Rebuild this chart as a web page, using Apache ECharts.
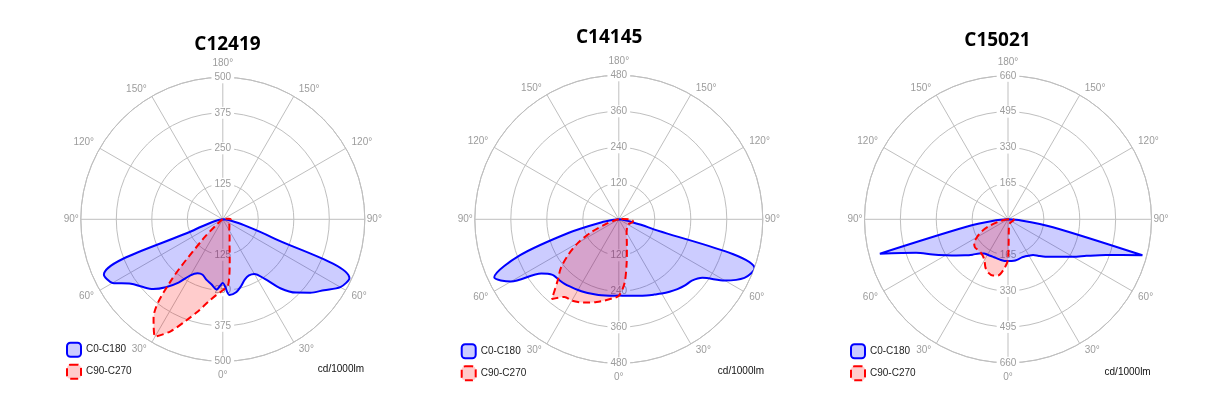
<!DOCTYPE html>
<html><head><meta charset="utf-8">
<script src="https://cdn.jsdelivr.net/npm/echarts@6/dist/echarts.min.js"></script>
<style>html,body{margin:0;padding:0;background:#fff}#c{width:1226px;height:400px}</style>
</head><body><div id="c"></div>
<script>
// ---- data ----
const gammaDeg = [0,5,10,15,20,25,30,35,40,45,50,55,60,65,70,75,80,85,90,95,100];
const titles = ['C12419','C14145','C15021'];
const planeNames = ['C0-C180','C90-C270'];
const unitText = 'cd/1000lm';
const radiusMax = [500,480,660];
const radiusStep = [125,120,165];

const c12419_C0   = [224,268,262,245,226,218,222,255,318,365,402,435,478,492,180,75,30,10,0,0,0];
const c12419_C180 = [224,248,232,221,208,210,228,272,312,347,370,395,448,462,100,40,15,5,0,0,0];
const c12419_C90  = [250,228,140,92,70,56,46,40,36,33,30,28,27,26,25,25,25,26,28,22,10];
const c12419_C270 = [250,268,295,335,380,435,477,425,290,100,25,10,5,3,2,1,0,0,0,0,0];

const c14145_C0   = [254,256,259,264,270,277,286,295,304,312,318,340,408,462,482,100,30,10,0,0,0];
const c14145_C180 = [254,256,258,261,264,268,272,276,281,284,288,315,415,458,350,170,60,15,0,0,0];
const c14145_C90  = [255,215,150,104,78,62,52,46,42,38,36,35,35,37,40,44,48,46,35,15,0];
const c14145_C270 = [255,265,275,285,295,305,313,316,347,288,252,205,157,100,45,15,5,2,0,0,0];

const c15021_C0   = [192,192,192,190,186,188,193,201,220,243,268,300,345,398,480,640,210,60,0,0,0];
const c15021_C180 = [192,192,190,187,186,186,188,192,205,230,258,290,330,382,450,610,190,55,0,0,0];
const c15021_C90  = [185,45,28,23,21,20,19,19,19,19,19,20,20,21,23,25,27,27,22,10,0];
const c15021_C270 = [185,232,262,268,262,245,217,203,198,198,199,190,165,135,95,50,20,5,0,0,0];

const chartPlanes = [
  [[c12419_C180, c12419_C0], [c12419_C270, c12419_C90]],
  [[c14145_C180, c14145_C0], [c14145_C270, c14145_C90]],
  [[c15021_C180, c15021_C0], [c15021_C270, c15021_C90]]
];

// ---- layout / style ----
const layout = [
  {cx:222.8, cy:219.3, r:142, titleX:227.5, titleTop:34.6, legL:66, legT:341.7, unitR:862, unitT:364.3},
  {cx:618.8, cy:219.3, r:144, titleX:609.2, titleTop:27.9, legL:460.7, legT:343.3, unitR:462, unitT:366.7},
  {cx:1008, cy:219.3, r:143.5, titleX:997.5, titleTop:31.2, legL:850, legT:343.3, unitR:75.3, unitT:367.3}
];
const gridColor = '#bfbfbf';
const labelColor = '#9c9c9c';
const FONT = 'Liberation Sans';
const planeStyle = [
  {line:'#0000ff', fill:'rgba(0,0,255,0.2)', type:'solid'},
  {line:'#ff0000', fill:'rgba(255,0,0,0.2)', type:[7,4]}
];
const tokenBase = {color:labelColor, fontSize:10, fontFamily:FONT};

function planeData(leftVals, rightVals) {
  const pts = [];
  for (let i = gammaDeg.length - 1; i >= 0; i--) pts.push([leftVals[i], gammaDeg[i]]);
  for (let i = 0; i < gammaDeg.length; i++) pts.push([rightVals[i], 360 - gammaDeg[i]]);
  return pts;
}
function angleLabel(v) {
  const a = v <= 180 ? v : 360 - v;
  const txt = a + '°';
  if (a === 0 || a === 180) return '{v|' + txt + '}';
  if (a === 90) return '{h|' + txt + '}';
  return '{d|' + txt + '}';
}

const polar = [], angleAxis = [], radiusAxis = [], series = [], title = [], legend = [];
const radLabel = {align:'center', verticalAlign:'middle', margin:0, backgroundColor:'#fff',
  padding:[1,3], color:labelColor, fontSize:10, fontFamily:FONT, showMinLabel:false};

layout.forEach((L, k) => {
  const pData = polar.length;
  polar.push({center:[L.cx, L.cy], radius:L.r});
  polar.push({center:[L.cx, L.cy], radius:L.r});
  angleAxis.push({
    polarIndex:pData, type:'value', min:0, max:360, interval:30, startAngle:-90, clockwise:true,
    axisLine:{show:true, lineStyle:{color:gridColor, width:1}},
    axisTick:{show:false},
    splitLine:{show:true, lineStyle:{color:gridColor, width:1}},
    axisLabel:{margin:2, color:labelColor, fontSize:10, fontFamily:FONT,
      formatter: angleLabel,
      rich:{
        v:Object.assign({padding:[7,0,7,0]}, tokenBase),
        d:Object.assign({padding:[0,4,0,4]}, tokenBase),
        h:Object.assign({padding:0}, tokenBase)
      }}
  });
  angleAxis.push({polarIndex:pData+1, type:'value', min:0, max:360, startAngle:90, show:false});
  radiusAxis.push({
    polarIndex:pData, type:'value', min:0, max:radiusMax[k], interval:radiusStep[k],
    axisLine:{show:false}, axisTick:{show:false},
    splitLine:{show:true, lineStyle:{color:gridColor, width:1}},
    axisLabel:radLabel
  });
  radiusAxis.push({
    polarIndex:pData+1, type:'value', min:0, max:radiusMax[k], interval:radiusStep[k],
    axisLine:{show:false}, axisTick:{show:false}, splitLine:{show:false},
    axisLabel:radLabel
  });
  chartPlanes[k].forEach((pl, j) => {
    const st = planeStyle[j];
    series.push({
      type:'line', name:planeNames[j], coordinateSystem:'polar', polarIndex:pData,
      data:planeData(pl[0], pl[1]), smooth:0.3, symbol:'none', z:2,
      lineStyle:{color:st.line, width:2, type:st.type},
      itemStyle:{color:st.line},
      areaStyle:{color:st.fill, opacity:1}
    });
  });
  title.push({text:titles[k], left:L.titleX, top:L.titleTop, textAlign:'center', padding:0,
    textStyle:{fontFamily:'Open Sans', fontWeight:'bold', fontSize:19, color:'#000'}});
  title.push({text:unitText, right:L.unitR, top:L.unitT, padding:0,
    textStyle:{fontFamily:FONT, fontWeight:'normal', fontSize:10, color:'#111'}});
  legend.push({
    left:L.legL, top:L.legT, orient:'vertical', padding:0, itemWidth:14, itemHeight:14, itemGap:6,
    icon:'roundRect', selectedMode:false,
    textStyle:{fontFamily:FONT, fontSize:10, color:'#222'},
    data: planeNames.map((n, j) => ({name:n, itemStyle:{color:planeStyle[j].fill, borderColor:planeStyle[j].line,
      borderWidth:2, borderType: j ? 'dashed' : 'solid'}}))
  });
});

const chart = echarts.init(document.getElementById('c'), null, {renderer:'canvas'});
chart.setOption({animation:false, backgroundColor:'#fff', title, legend, polar, angleAxis, radiusAxis, series});
</script></body></html>
